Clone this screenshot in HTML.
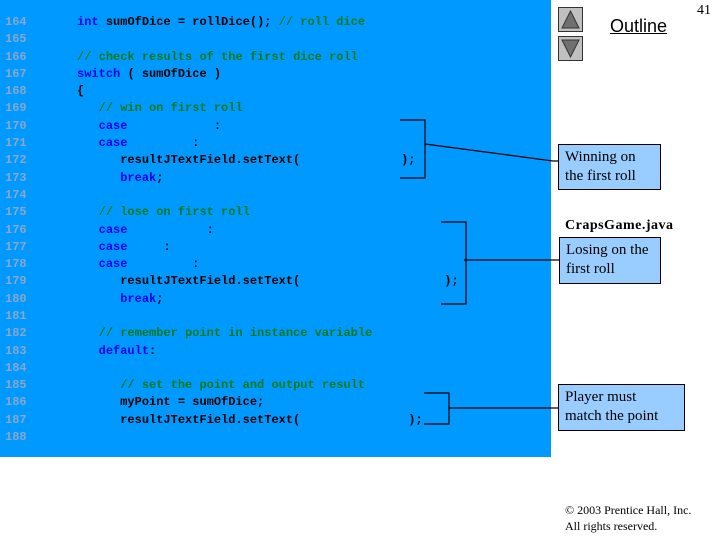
<!DOCTYPE html>
<html><head><meta charset="utf-8"><style>
body{margin:0;width:720px;height:540px;position:relative;background:#fff;overflow:hidden}
#panel{position:absolute;left:0;top:0;width:551px;height:457px;background:#0099ff}
.l{position:absolute;left:0;font:bold 12px/14px "Liberation Mono",monospace;white-space:pre;color:#000}
.n{color:#8aa6c8;font-weight:bold}
.k{color:#0000ee}
.c{color:#007a1a}
.bx{position:absolute;background:#99ccff;border:1px solid #000;font:15px/19px "Liberation Serif",serif;padding:3px 6px;box-sizing:border-box;white-space:nowrap}
.t{position:absolute;font-family:"Liberation Serif",serif}
</style></head><body>
<div id="panel"></div>
<div id="code"></div>
<script>
var L=[
['164','       <span class="k">int</span> sumOfDice = rollDice(); <span class="c">// roll dice</span>'],
['165',''],
['166','       <span class="c">// check results of the first dice roll</span>'],
['167','       <span class="k">switch</span> ( sumOfDice )'],
['168','       {'],
['169','          <span class="c">// win on first roll</span>'],
['170','          <span class="k">case</span>            :'],
['171','          <span class="k">case</span>         :'],
['172','             resultJTextField.setText(              );'],
['173','             <span class="k">break</span>;'],
['174',''],
['175','          <span class="c">// lose on first roll</span>'],
['176','          <span class="k">case</span>           :'],
['177','          <span class="k">case</span>     :'],
['178','          <span class="k">case</span>         :'],
['179','             resultJTextField.setText(                    );'],
['180','             <span class="k">break</span>;'],
['181',''],
['182','          <span class="c">// remember point in instance variable</span>'],
['183','          <span class="k">default</span>:'],
['184',''],
['185','             <span class="c">// set the point and output result</span>'],
['186','             myPoint = sumOfDice;'],
['187','             resultJTextField.setText(               );'],
['188','']];
var h='';
for(var i=0;i<L.length;i++){h+='<div class="l" style="top:'+(15+i*17.29).toFixed(1)+'px;left:5px"><span class="n">'+L[i][0]+'</span>'+L[i][1]+'</div>';}
document.getElementById('code').innerHTML=h;
</script>
<svg width="720" height="540" style="position:absolute;left:0;top:0">
<g stroke="#000" stroke-width="1.2" fill="none">
<polyline points="400,120 425,120 425,178 400,178"/>
<polyline points="425,144 553,161 560,161"/>
<polyline points="441,222 466,222 466,304 441,304"/>
<line x1="464" y1="260" x2="560" y2="260"/>
<polyline points="424,393 449,393 449,424 424,424"/>
<line x1="449" y1="408" x2="560" y2="408"/>
</g>
<rect x="558.5" y="7.5" width="24" height="24" fill="#c0c0c0" stroke="#333"/>
<polygon points="570.5,11 579,28 562,28" fill="#707070" stroke="#333"/>
<rect x="558.5" y="36.5" width="24" height="24" fill="#c0c0c0" stroke="#333"/>
<polygon points="562,40 579,40 570.5,57" fill="#707070" stroke="#333"/>
</svg>
<div class="t" style="left:610px;top:16px;font:18px 'Liberation Sans',sans-serif;text-decoration:underline">Outline</div>
<div class="t" style="left:697px;top:3px;font-size:14px">41</div>
<div class="bx" style="left:558px;top:144px;width:103px;height:46px">Winning on<br>the first roll</div>
<div class="t" style="left:565px;top:218px;font-size:14px;font-weight:bold;letter-spacing:0.5px">CrapsGame.java</div>
<div class="bx" style="left:559px;top:237px;width:102px;height:47px">Losing on the<br>first roll</div>
<div class="bx" style="left:558px;top:384px;width:127px;height:47px">Player must<br>match the point</div>
<div class="t" style="left:565px;top:502px;font-size:12px;line-height:16px">© 2003 Prentice Hall, Inc.<br>All rights reserved.</div>
</body></html>
